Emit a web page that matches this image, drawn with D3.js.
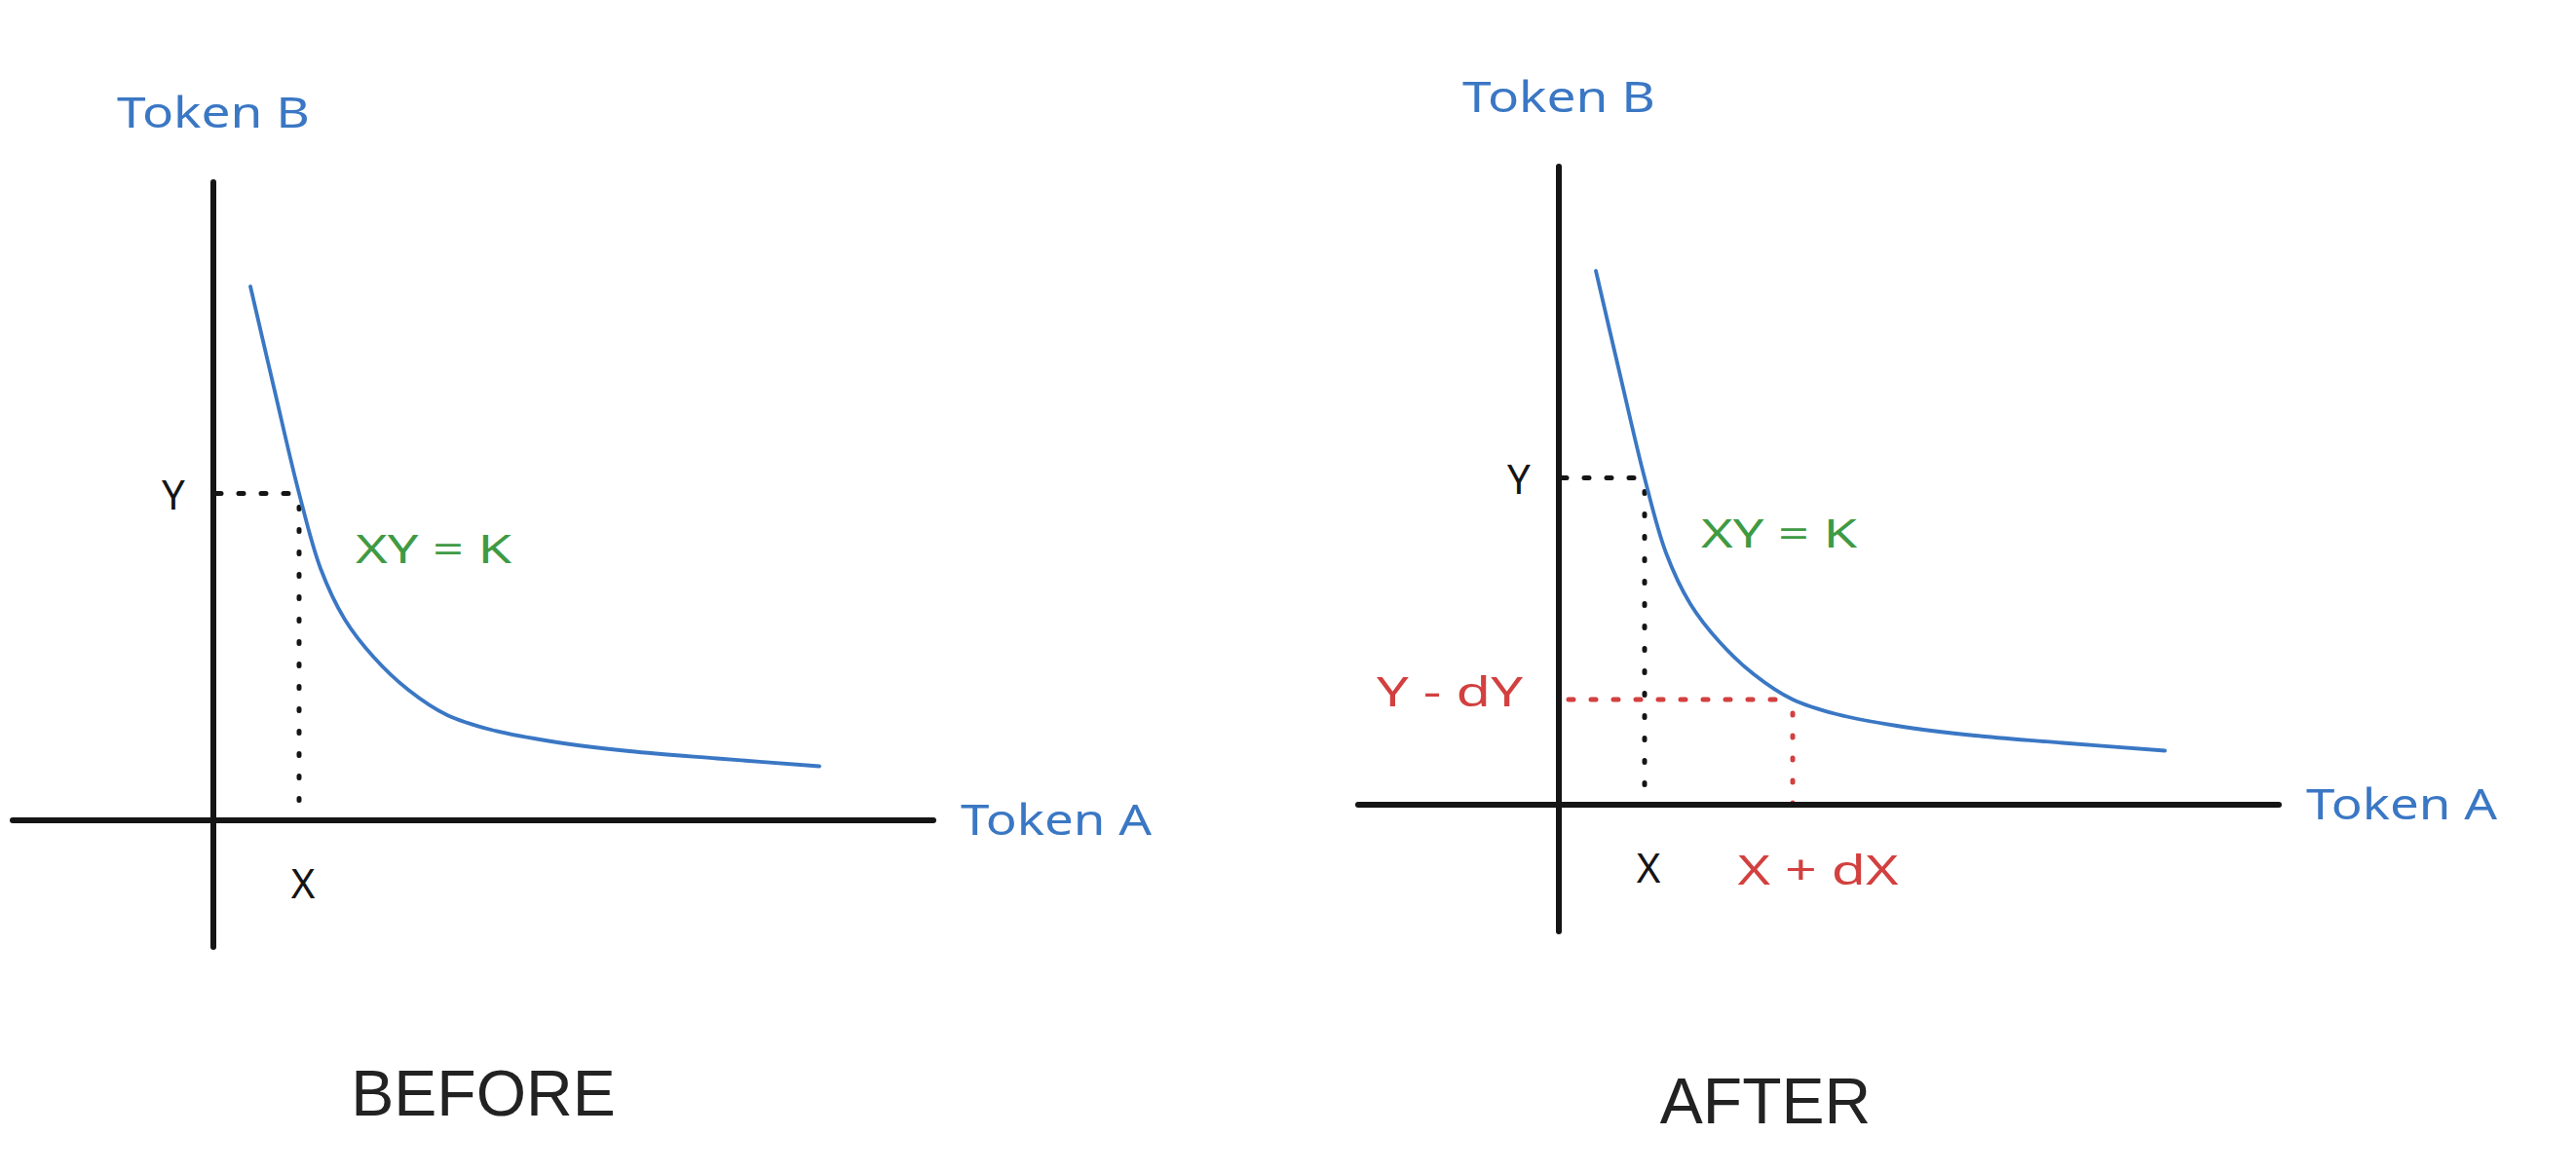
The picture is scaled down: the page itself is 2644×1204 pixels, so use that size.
<!DOCTYPE html>
<html>
<head>
<meta charset="utf-8">
<script src="https://cdn.jsdelivr.net/npm/d3@7"></script>
<style>
  html, body { margin: 0; padding: 0; background: #fff; }
  svg { display: block; }
  .hand { font-family: "Noto Sans", "DejaVu Sans", sans-serif; }
  .title { font-family: "Liberation Sans", Arial, sans-serif; fill: #222; }
</style>
</head>
<body>
<script>
// constant product curve (token units)
const tokenA = [3.8, 6.3, 8.8, 11.0, 13.5, 16.5, 20.0, 24.0, 28.5, 34.7, 42.7, 51.7, 62.2];
const tokenB = [54.8, 44.05, 33.55, 25.85, 20.6, 16.7, 13.4, 10.8, 9.3, 8.1, 7.1, 6.35, 5.55];

// axis extents (token units)
const axisA = [-20.6, 73.9];
const axisB = [-13.0, 65.5];

// reserves before and after the trade
const reserveX = 8.8, reserveY = 33.55;
const newX = 24.0, newY = 10.8;

const panelTitles = ["BEFORE", "AFTER"];
const axisNames = ["Token A", "Token B"];
const pointLabels = ["X", "Y"];
const newLabels = ["X + dX", "Y - dY"];
const curveLabel = "XY = K";

const W = 2644, H = 1204;
const BLUE = "#3a77c4", GREEN = "#3f9a44", RED = "#d2403f", INK = "#151515";

const svg = d3.select("body").append("svg")
  .attr("width", W).attr("height", H);

const panels = [
  { title: panelTitles[0], ox: 219, oy: 842, titleX: 496, titleY: 1122, after: false },
  { title: panelTitles[1], ox: 1600, oy: 826, titleX: 1812, titleY: 1130, after: true }
];

const curve = tokenA.map((a, i) => ({ a: a, b: tokenB[i] }));

panels.forEach(p => {
  // 10 px per token unit
  let x = d3.scaleLinear().domain([0, 1]).range([p.ox, p.ox + 10]);
  let y = d3.scaleLinear().domain([0, 1]).range([p.oy, p.oy - 10]);
  let g = svg.append("g");

  // dotted guides
  function guide(x1, y1, x2, y2, color, dash) {
    g.append("line")
      .attr("x1", x1).attr("y1", y1).attr("x2", x2).attr("y2", y2)
      .attr("stroke", color)
      .attr("stroke-width", 5)
      .attr("stroke-linecap", "round")
      .attr("stroke-dasharray", dash);
  }
  guide(x(0) + 3, y(reserveY), x(reserveX), y(reserveY), INK, "5 18");
  guide(x(reserveX), y(reserveY) + 14, x(reserveX), y(0) - 14, INK, "2 21");
  if (p.after) {
    guide(x(0) + 10, y(newY), x(newX), y(newY), RED, "5 18");
    guide(x(newX), y(newY) + 14, x(newX), y(0) + 3, RED, "2 21");
  }

  // axes
  g.append("line")
    .attr("x1", x(axisA[0])).attr("x2", x(axisA[1]))
    .attr("y1", y(0)).attr("y2", y(0))
    .attr("stroke", INK).attr("stroke-width", 6).attr("stroke-linecap", "round");
  g.append("line")
    .attr("x1", x(0)).attr("x2", x(0))
    .attr("y1", y(axisB[0])).attr("y2", y(axisB[1]))
    .attr("stroke", INK).attr("stroke-width", 6).attr("stroke-linecap", "round");

  // curve
  let line = d3.line()
    .x(d => x(d.a))
    .y(d => y(d.b))
    .curve(d3.curveCatmullRom.alpha(0.5));
  g.append("path")
    .datum(curve)
    .attr("d", line)
    .attr("fill", "none")
    .attr("stroke", BLUE)
    .attr("stroke-width", 3.8)
    .attr("stroke-linecap", "round");

  function label(text, cx, cy, color, size, width) {
    let t = g.append("text")
      .attr("class", "hand")
      .attr("x", cx).attr("y", cy)
      .attr("text-anchor", "middle")
      .attr("dominant-baseline", "central")
      .attr("font-size", size)
      .attr("fill", color)
      .text(text);
    if (width) t.attr("textLength", width).attr("lengthAdjust", "spacingAndGlyphs");
    return t;
  }

  label(axisNames[1], x(0), y(72.8), BLUE, 44, 198);
  label(axisNames[0], x(86.5), y(0.2), BLUE, 44, 196);
  label(pointLabels[1], x(-4.1), y(reserveY), INK, 42);
  label(pointLabels[0], x(reserveX + 0.4), y(-6.3), INK, 42);
  label(curveLabel, x(22.6), y(28.0), GREEN, 40, 160);
  if (p.after) {
    label(newLabels[1], x(-11.2), y(newY + 1.0), RED, 42, 150);
    label(newLabels[0], x(26.6), y(-6.5), RED, 42, 165);
  }

  svg.append("text")
    .attr("class", "title")
    .attr("x", p.titleX).attr("y", p.titleY)
    .attr("text-anchor", "middle")
    .attr("dominant-baseline", "central")
    .attr("font-size", 66)
    .text(p.title);
});
</script>
</body>
</html>
